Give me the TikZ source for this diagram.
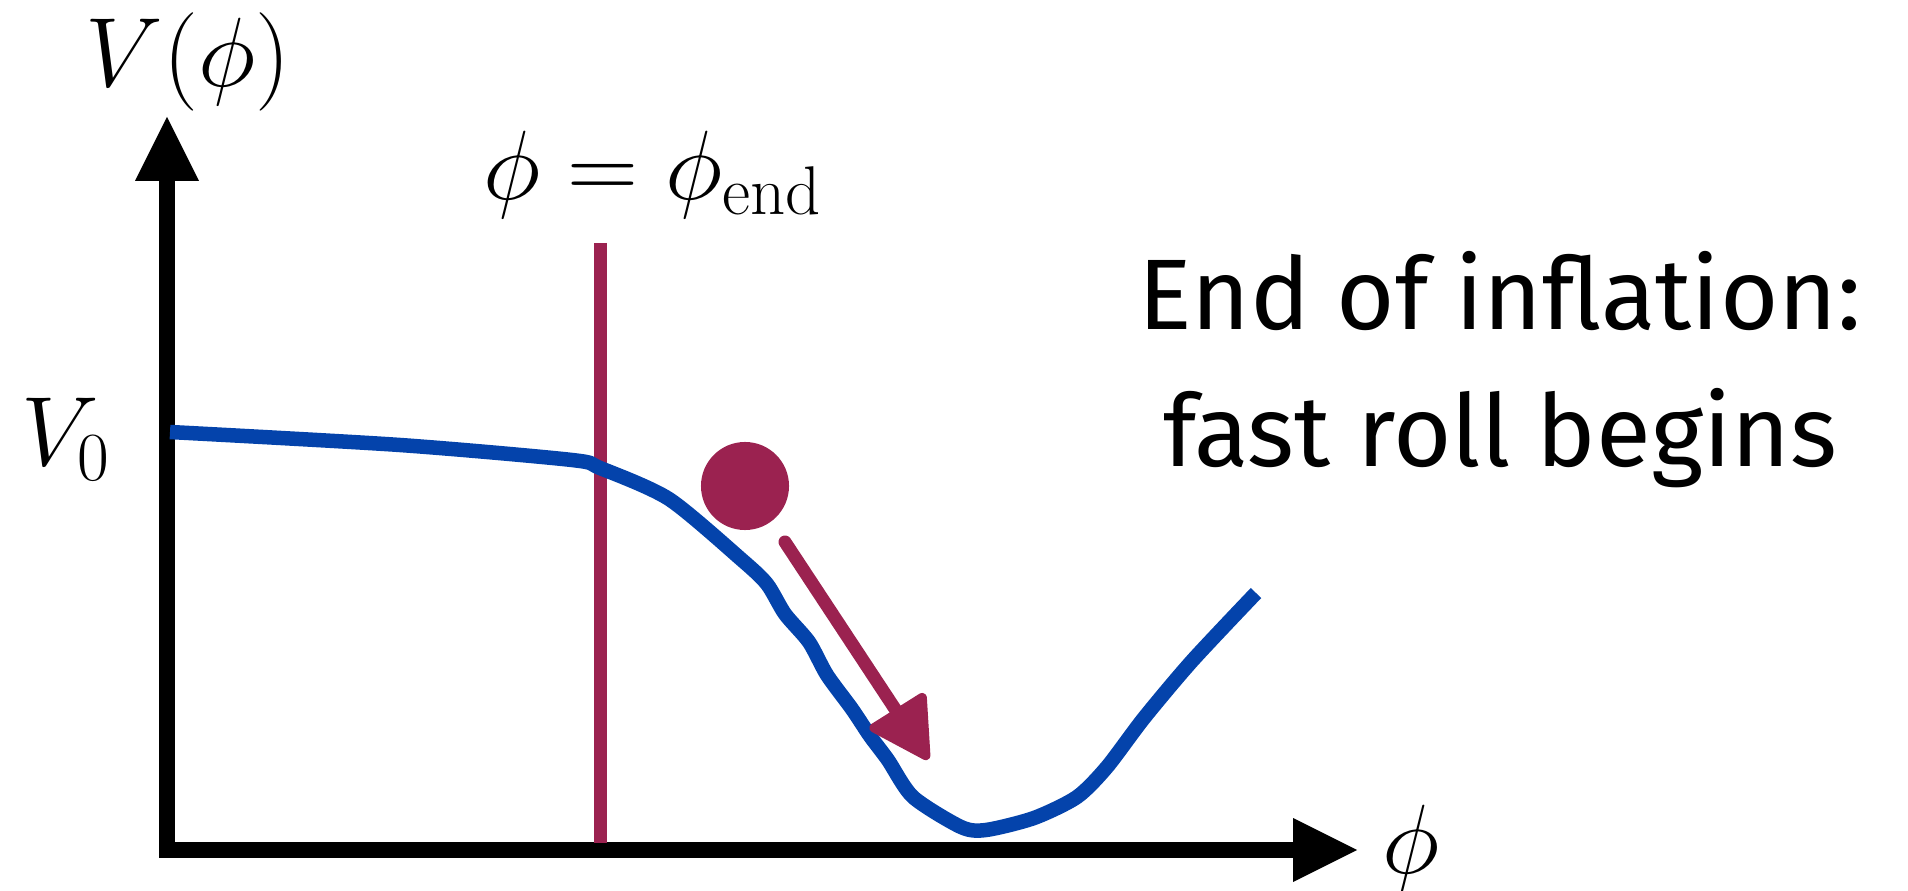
\RequirePackage{fix-cm}
\documentclass[tikz,border=0pt]{standalone}
\usepackage{fontspec}
\newfontfamily\labelfont{Fira Sans}
\definecolor{berry}{RGB}{155,34,80}
\definecolor{curveblue}{RGB}{4,67,171}
\begin{document}
\begin{tikzpicture}[x=0.01cm,y=-0.01cm,
  axis/.style={line width=0.155cm,black},
  tip/.style={fill=black,draw=none},
  mathlab/.style={inner sep=0pt,font=\fontsize{28}{34}\selectfont},
  textlab/.style={inner sep=0pt,font=\labelfont\fontsize{28.5}{34}\selectfont},
  potential/.style={line width=0.145cm,curveblue,line join=round},
  marker/.style={line width=0.13cm,berry}]
\useasboundingbox (0,0) rectangle (1908,891);
% axes
\draw[axis] (167,857) -- (167,178);
\fill[tip] (135,181) -- (199,181) -- (167,117) -- cycle;
\draw[axis] (159,850) -- (1296,850);
\fill[tip] (1293,818) -- (1293,882) -- (1357,850) -- cycle;
% end line
\draw[marker] (600,243) -- (600,843);
% potential
\draw[potential] plot[smooth,tension=0.45] coordinates {
 (170,432) (400,445) (572,460) (600,468) (669,499) (742,560) (767,584)
 (785,614) (809,642) (827,675) (852,709) (870,736) (888,760) (913,797)
 (961,827) (986,830) (1034,818) (1077,797) (1107,767) (1144,718)
 (1192,661) (1256,593)};
% ball and arrow
\fill[berry] (745,486) circle[radius=0.44cm];
\draw[line width=0.13cm,berry,line cap=round] (785,542) -- (897,712);
\filldraw[berry,line width=1.5pt,line join=round,rounded corners=1pt]
  (870,728) -- (924,694) -- (928,759) -- cycle;
% labels
\node[mathlab] (vphi) at (188,62) {$V(\phi)$};
\node[mathlab] (vzero) at (66,439) {$V_0$};
\node[mathlab] (phiend) at (653,175) {$\phi=\phi_{\rm end}$};
\node[mathlab] (phi) at (1411,849) {$\phi$};
\node[textlab,anchor=base] (t1) at (1500,330) {End of inflation:};
\node[textlab,anchor=base] (t2) at (1500,466) {fast roll begins};
\end{tikzpicture}
\end{document}
